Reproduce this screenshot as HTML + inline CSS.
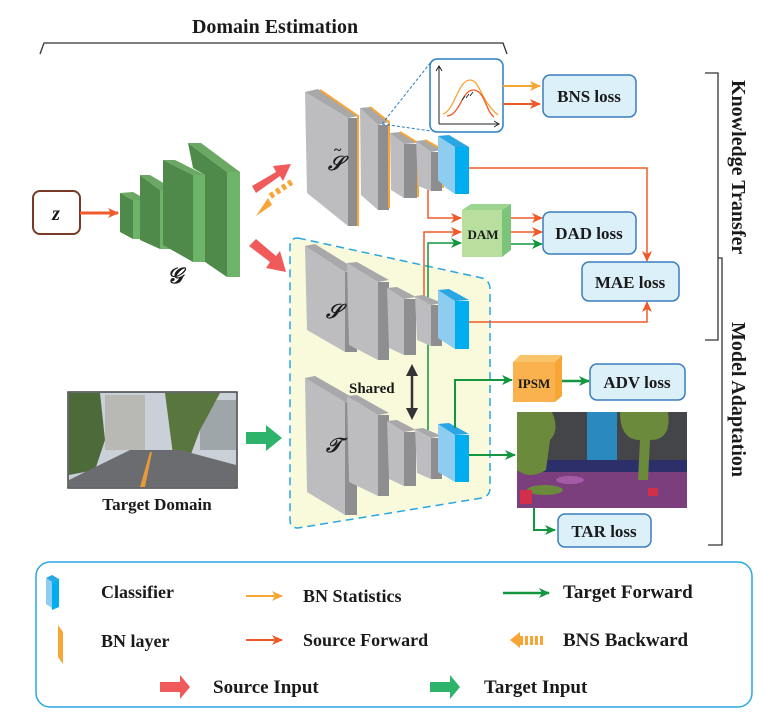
<!DOCTYPE html>
<html><head><meta charset="utf-8"><style>
html,body{margin:0;padding:0;background:#fff;}
svg{display:block;}
text{font-family:"Liberation Serif",serif;font-weight:bold;fill:#1a1a1a;}
</style></head><body>
<svg width="782" height="721" viewBox="0 0 782 721" xmlns="http://www.w3.org/2000/svg">
<defs>
<marker id="mr" markerWidth="11" markerHeight="10" refX="10" refY="5" orient="auto" markerUnits="userSpaceOnUse"><path d="M0,0 L11,5 L0,10 L3,5z" fill="#f05a28"/></marker>
<marker id="mo" markerWidth="11" markerHeight="10" refX="10" refY="5" orient="auto" markerUnits="userSpaceOnUse"><path d="M0,0 L11,5 L0,10 L3,5z" fill="#f7a534"/></marker>
<marker id="mg" markerWidth="11" markerHeight="10" refX="10" refY="5" orient="auto" markerUnits="userSpaceOnUse"><path d="M0,0 L11,5 L0,10 L3,5z" fill="#12963f"/></marker>
</defs>

<text x="275" y="33" font-size="20" text-anchor="middle">Domain Estimation</text>
<path d="M40,54 L44,43 L503,43 L507,54" fill="none" stroke="#333" stroke-width="1.3"/>

<path d="M705,73 L718,73 L718,340 L705,340" fill="none" stroke="#333" stroke-width="1.3"/>
<path d="M718,258 L722,258 L722,545 L708,545" fill="none" stroke="#333" stroke-width="1.3"/>
<text transform="translate(732,80) rotate(90)" font-size="20">Knowledge Transfer</text>
<text transform="translate(732,322) rotate(90)" font-size="20">Model Adaptation</text>

<rect x="33" y="191" width="47" height="43" rx="7" fill="#fff" stroke="#7a3b26" stroke-width="2"/>
<text x="56" y="220" font-size="20" font-style="italic" text-anchor="middle">z</text>
<line x1="80" y1="213" x2="118" y2="213" stroke="#f05a28" stroke-width="3" marker-end="url(#mr)"/>

<g>
<polygon points="120,193 133,200 133,239 120,232" fill="#4f8a4b"/><polygon points="120,193 133,192 147,200 133,200" fill="#6aa864"/><rect x="133" y="200" width="14" height="39" fill="#6db36a"/>
<polygon points="140,175 160,190 160,249 140,240" fill="#4f8a4b"/><polygon points="140,175 150,175 175,190 160,190" fill="#6aa864"/><rect x="160" y="190" width="15" height="59" fill="#6db36a"/>
<polygon points="163,160 193,175 193,262 163,245" fill="#4f8a4b"/><polygon points="163,160 175,160 205,175 193,175" fill="#6aa864"/><rect x="193" y="175" width="12" height="87" fill="#6db36a"/>
<polygon points="188,143 227,172 227,277 205,262 205,175 193,168" fill="#4f8a4b"/><polygon points="188,143 201,143 240,172 227,172" fill="#6aa864"/><rect x="227" y="172" width="13" height="105" fill="#6db36a"/>
</g>
<text x="175" y="283" font-size="22" font-style="italic" text-anchor="middle" font-weight="normal">𝒢</text>

<polygon points="252,186 276,172 273,166 291,164 283,181 280,176 256,193" fill="#f05a5a"/>
<g fill="#f7a534"><rect x="270" y="192" width="4" height="6" transform="rotate(-32 272 195)"/><rect x="276" y="188" width="4" height="6" transform="rotate(-32 278 191)"/><rect x="282" y="184" width="4" height="6" transform="rotate(-32 284 187)"/><rect x="288" y="180" width="4" height="6" transform="rotate(-32 290 183)"/></g>
<polygon points="256,216 268,198 272,205" fill="#f7a534"/>
<polygon points="249,246 256,239 276,256 280,251 286,272 266,268 270,262" fill="#f05a5a"/>

<path d="M298,238 L482,278 Q490,280 490,290 L490,488 Q490,496 482,498 L298,528 Q290,528 290,520 L290,246 Q290,238 298,238 Z" fill="#f9f9dc" stroke="#29a6e3" stroke-width="1.5" stroke-dasharray="8,5"/>

<g>
<polygon points="305,92 348,118 348,226 307,193" fill="#bdbdbf"/><polygon points="305,92 318,89 359,116 348,118" fill="#a8a8aa"/><rect x="348" y="118" width="10" height="108" fill="#8e8e90"/><polyline points="320,90 358,116 358,226" fill="none" stroke="#f7a534" stroke-width="2"/>
<polygon points="360,108 378,125 378,210 361,195" fill="#bdbdbf"/><polygon points="360,108 370,107 389,122 378,125" fill="#a8a8aa"/><rect x="378" y="125" width="11" height="85" fill="#8e8e90"/><polyline points="370,107 389,122 389,208" fill="none" stroke="#f7a534" stroke-width="2"/>
<polygon points="390,133 404,144 404,198 391,190" fill="#bdbdbf"/><polygon points="390,133 400,132 418,143 404,144" fill="#a8a8aa"/><rect x="404" y="144" width="13" height="54" fill="#8e8e90"/><polyline points="400,132 418,143 418,197" fill="none" stroke="#f7a534" stroke-width="2"/>
<polygon points="416,141 431,152 431,191 418,186" fill="#bdbdbf"/><polygon points="416,141 425,140 442,150 431,152" fill="#a8a8aa"/><rect x="431" y="152" width="11" height="39" fill="#8e8e90"/><polyline points="425,140 443,150 443,188" fill="none" stroke="#f7a534" stroke-width="2"/>
<polygon points="438,136 455,147 455,194 446,188 438,180" fill="#8fcdf0"/><polygon points="438,136 449,135 469,147 455,147" fill="#29a6e3"/><rect x="455" y="147" width="14" height="47" fill="#00aeef"/>
</g>
<text x="328" y="170" font-size="20" font-style="italic" font-weight="normal">𝒮</text>
<text x="334" y="154" font-size="14" font-weight="normal">~</text>

<line x1="382" y1="124" x2="431" y2="62" stroke="#2a7ec0" stroke-width="1" stroke-dasharray="3,2"/>
<line x1="382" y1="124" x2="431" y2="131" stroke="#2a7ec0" stroke-width="1" stroke-dasharray="3,2"/>
<rect x="430" y="59" width="73" height="73" rx="7" fill="#fff" stroke="#2a7ec0" stroke-width="1.5"/>
<path d="M439,124 L439,67 M436,71 L439,66 L442,71 M439,124 L499,124 M494,121 L499,124 L494,127" fill="none" stroke="#222" stroke-width="1"/>
<path d="M443,114 C455,110 458,80 470,80 C480,80 480,100 498,115" fill="none" stroke="#f7a534" stroke-width="1.3"/>
<path d="M447,116 C460,115 462,90 473,90 C485,90 485,110 494,117" fill="none" stroke="#f05a28" stroke-width="1.3"/>
<path d="M462,100 l3,-4 M466,98 l3,-4 M470,96 l3,-4" stroke="#222" stroke-width="0.9"/>
<line x1="503" y1="86" x2="540" y2="86" stroke="#f7a534" stroke-width="2" marker-end="url(#mo)"/>
<line x1="503" y1="104" x2="540" y2="104" stroke="#f05a28" stroke-width="2" marker-end="url(#mr)"/>
<rect x="543" y="75" width="93" height="42" rx="7" fill="#dcf0fa" stroke="#3b7dc0" stroke-width="1.5"/>
<text x="589" y="102" font-size="17" text-anchor="middle">BNS loss</text>

<polyline points="469,168 647,168 647,261" fill="none" stroke="#f05a28" stroke-width="1.5" marker-end="url(#mr)"/>
<polyline points="469,322 647,322 647,302" fill="none" stroke="#f05a28" stroke-width="1.5" marker-end="url(#mr)"/>
<rect x="582" y="262" width="97" height="39" rx="7" fill="#dcf0fa" stroke="#3b7dc0" stroke-width="1.5"/>
<text x="630" y="288" font-size="17" text-anchor="middle">MAE loss</text>

<polyline points="428,190 428,218 461,218" fill="none" stroke="#f05a28" stroke-width="1.5" marker-end="url(#mr)"/>
<polyline points="424,297 424,232 461,232" fill="none" stroke="#f05a28" stroke-width="1.5" marker-end="url(#mr)"/>
<polyline points="428,430 428,243 461,243" fill="none" stroke="#12963f" stroke-width="1.5" marker-end="url(#mg)"/>
<polygon points="462,210 471,204 511,204 502,210" fill="#9bd58f"/>
<rect x="462" y="210" width="40" height="47" fill="#b9df9e"/>
<polygon points="502,210 511,204 511,250 502,257" fill="#7cc47a"/>
<text x="483" y="239" font-size="13" text-anchor="middle">DAM</text>
<line x1="511" y1="218" x2="542" y2="218" stroke="#f05a28" stroke-width="1.5" marker-end="url(#mr)"/>
<line x1="511" y1="232" x2="542" y2="232" stroke="#f05a28" stroke-width="1.5" marker-end="url(#mr)"/>
<line x1="511" y1="244" x2="542" y2="244" stroke="#12963f" stroke-width="1.5" marker-end="url(#mg)"/>
<rect x="543" y="212" width="93" height="42" rx="7" fill="#dcf0fa" stroke="#3b7dc0" stroke-width="1.5"/>
<text x="589" y="239" font-size="17" text-anchor="middle">DAD loss</text>

<g>
<polygon points="305,246 345,272 345,352 307,330" fill="#bdbdbf"/><polygon points="305,246 315,244 357,270 345,272" fill="#a8a8aa"/><rect x="345" y="272" width="12" height="80" fill="#8e8e90"/>
<polygon points="347,263 378,282 378,360 349,345" fill="#bdbdbf"/><polygon points="347,263 357,262 389,280 378,282" fill="#a8a8aa"/><rect x="378" y="282" width="11" height="78" fill="#8e8e90"/>
<polygon points="387,288 404,299 404,355 389,348" fill="#bdbdbf"/><polygon points="387,288 397,287 416,297 404,299" fill="#a8a8aa"/><rect x="404" y="299" width="12" height="56" fill="#8e8e90"/>
<polygon points="415,296 431,305 431,346 417,340" fill="#bdbdbf"/><polygon points="415,296 423,295 442,303 431,305" fill="#a8a8aa"/><rect x="431" y="305" width="11" height="41" fill="#8e8e90"/>
<polygon points="438,290 455,301 455,349 438,338" fill="#8fcdf0"/><polygon points="438,290 449,289 469,300 455,301" fill="#29a6e3"/><rect x="455" y="301" width="14" height="48" fill="#00aeef"/>
</g>
<text x="326" y="318" font-size="20" font-style="italic" font-weight="normal">𝒮</text>

<text x="349" y="393" font-size="15">Shared</text>
<line x1="412" y1="374" x2="412" y2="410" stroke="#333" stroke-width="2.5"/>
<polygon points="406,376 412,364 418,376" fill="#333"/>
<polygon points="406,408 412,420 418,408" fill="#333"/>

<g>
<polygon points="305,378 345,402 345,515 307,492" fill="#bdbdbf"/><polygon points="305,378 315,376 357,400 345,402" fill="#a8a8aa"/><rect x="345" y="402" width="12" height="113" fill="#8e8e90"/>
<polygon points="347,396 378,415 378,496 349,482" fill="#bdbdbf"/><polygon points="347,396 357,395 389,413 378,415" fill="#a8a8aa"/><rect x="378" y="415" width="11" height="81" fill="#8e8e90"/>
<polygon points="387,421 404,432 404,486 389,479" fill="#bdbdbf"/><polygon points="387,421 397,420 416,430 404,432" fill="#a8a8aa"/><rect x="404" y="432" width="12" height="54" fill="#8e8e90"/>
<polygon points="415,429 431,438 431,479 417,473" fill="#bdbdbf"/><polygon points="415,429 423,428 442,436 431,438" fill="#a8a8aa"/><rect x="431" y="438" width="11" height="41" fill="#8e8e90"/>
<polygon points="438,424 455,435 455,482 438,472" fill="#8fcdf0"/><polygon points="438,424 449,423 469,434 455,435" fill="#29a6e3"/><rect x="455" y="435" width="14" height="47" fill="#00aeef"/>
</g>
<text x="326" y="452" font-size="20" font-style="italic" font-weight="normal">𝒯</text>

<polyline points="455,428 455,380 512,380" fill="none" stroke="#12963f" stroke-width="2" marker-end="url(#mg)"/>
<polygon points="513,362 520,355 562,355 555,362" fill="#f9c46a"/>
<rect x="513" y="362" width="42" height="40" fill="#f9b24e"/>
<polygon points="555,362 562,355 562,396 555,402" fill="#f7a534"/>
<text x="534" y="388" font-size="13" text-anchor="middle">IPSM</text>
<line x1="562" y1="381" x2="589" y2="381" stroke="#12963f" stroke-width="2.5" marker-end="url(#mg)"/>
<rect x="590" y="364" width="95" height="36" rx="7" fill="#dcf0fa" stroke="#3b7dc0" stroke-width="1.5"/>
<text x="637" y="388" font-size="17" text-anchor="middle">ADV loss</text>

<line x1="469" y1="455" x2="515" y2="455" stroke="#12963f" stroke-width="2" marker-end="url(#mg)"/>
<g>
<rect x="517" y="412" width="170" height="96" fill="#444548"/>
<rect x="587" y="412" width="30" height="50" fill="#2a8ac0"/>
<rect x="517" y="470" width="170" height="38" fill="#7c3f7e"/>
<rect x="540" y="460" width="147" height="12" fill="#2d2f6a"/>
<path d="M517,412 L552,412 Q560,430 550,440 L546,470 Q530,480 517,470 Z" fill="#6b8a3b"/>
<path d="M620,412 L668,412 Q672,440 650,440 L648,480 L638,480 L640,440 Q620,440 620,412 Z" fill="#6b8a3b"/>
<ellipse cx="545" cy="490" rx="18" ry="5" fill="#6b8a3b"/>
<ellipse cx="570" cy="480" rx="14" ry="4" fill="#a45aa5"/>
<rect x="520" y="490" width="12" height="14" fill="#d0304a"/>
<rect x="648" y="488" width="10" height="8" fill="#d0304a"/>
</g>
<polyline points="534,508 534,530 555,530" fill="none" stroke="#12963f" stroke-width="2" marker-end="url(#mg)"/>
<rect x="558" y="514" width="93" height="33" rx="7" fill="#dcf0fa" stroke="#3b7dc0" stroke-width="1.5"/>
<text x="604" y="537" font-size="17" text-anchor="middle">TAR loss</text>

<g>
<rect x="68" y="392" width="169" height="96" fill="#c9d0d8" stroke="#444" stroke-width="1.5"/>
<rect x="105" y="395" width="40" height="55" fill="#b8b8b5"/>
<rect x="200" y="400" width="36" height="50" fill="#9fa6aa"/>
<path d="M69,393 L100,393 L105,440 L95,470 L69,475 Z" fill="#4d6b3a"/>
<path d="M165,393 L220,393 L200,430 L185,470 L175,470 Z" fill="#59763e"/>
<polygon points="69,487 236,487 236,465 180,450 130,450 69,480" fill="#6a6c70"/>
<polygon points="140,487 145,487 152,452 150,452" fill="#e89a3a"/>
</g>
<text x="157" y="510" font-size="17" text-anchor="middle">Target Domain</text>
<polygon points="246,432 266,432 266,425 282,438 266,451 266,444 246,444" fill="#2db36a"/>

<rect x="36" y="562" width="716" height="145" rx="14" fill="#fff" stroke="#29a6e3" stroke-width="1.5"/>
<polygon points="46,578 52,575 59,579 52,582" fill="#29a6e3"/><polygon points="46,578 52,582 52,608 46,604" fill="#8fcdf0"/><polygon points="52,582 59,579 59,607 52,610" fill="#00aeef"/>
<polygon points="58,625 63,632 63,664 58,657" fill="#f7a534"/>
<text x="101" y="598" font-size="18">Classifier</text>
<text x="101" y="647" font-size="18">BN layer</text>
<line x1="246" y1="596" x2="282" y2="596" stroke="#f7a534" stroke-width="2" marker-end="url(#mo)"/>
<line x1="246" y1="640" x2="282" y2="640" stroke="#f05a28" stroke-width="2" marker-end="url(#mr)"/>
<text x="303" y="602" font-size="18">BN Statistics</text>
<text x="303" y="646" font-size="18">Source Forward</text>
<line x1="503" y1="593" x2="549" y2="593" stroke="#12963f" stroke-width="2.5" marker-end="url(#mg)"/>
<text x="563" y="598" font-size="19">Target Forward</text>
<g fill="#f7a534"><rect x="520" y="636" width="3" height="9"/><rect x="525" y="636" width="3" height="9"/><rect x="530" y="636" width="3" height="9"/><rect x="535" y="636" width="3" height="9"/><rect x="540" y="636" width="3" height="9"/></g>
<polygon points="510,640 520,632 520,648" fill="#f7a534"/>
<text x="563" y="646" font-size="19">BNS Backward</text>
<polygon points="160,682 180,682 180,675 190,687 180,699 180,692 160,692" fill="#f05a5a"/>
<text x="213" y="693" font-size="19">Source Input</text>
<polygon points="430,682 450,682 450,675 460,687 450,699 450,692 430,692" fill="#2db36a"/>
<text x="484" y="693" font-size="19">Target Input</text>
</svg>
</body></html>
